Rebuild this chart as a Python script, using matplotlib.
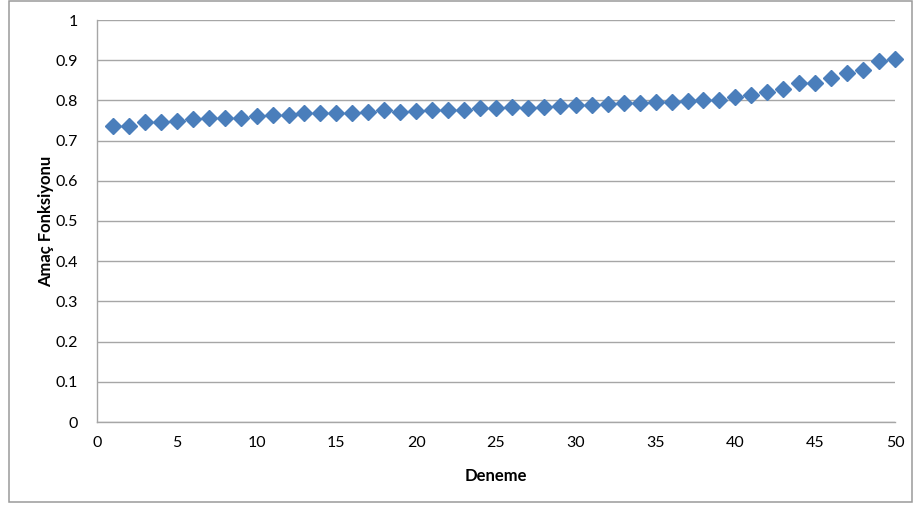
import matplotlib.pyplot as plt
from matplotlib.patches import Rectangle

# Objective function value for each trial
deneme = list(range(1, 51))
amac = [0.736, 0.7375, 0.746, 0.746, 0.750, 0.754, 0.757, 0.757, 0.757, 0.761,
        0.7625, 0.7625, 0.769, 0.7675, 0.7675, 0.769, 0.772, 0.775, 0.772, 0.773,
        0.776, 0.776, 0.776, 0.781, 0.781, 0.7825, 0.782, 0.784, 0.786, 0.7875,
        0.788, 0.791, 0.7925, 0.794, 0.796, 0.795, 0.798, 0.800, 0.801, 0.808,
        0.814, 0.822, 0.829, 0.844, 0.843, 0.856, 0.869, 0.875, 0.898, 0.904]

x_ticks = list(range(0, 51, 5))
y_ticks = [0, 0.1, 0.2, 0.3, 0.4, 0.5, 0.6, 0.7, 0.8, 0.9, 1]
y_tick_labels = ["0", "0.1", "0.2", "0.3", "0.4", "0.5", "0.6", "0.7", "0.8", "0.9", "1"]

plt.rcParams['font.family'] = ['Lato', 'DejaVu Sans']

W, H = 918, 507
fig = plt.figure(figsize=(W / 100, H / 100), dpi=100)
fig.patch.set_facecolor('white')

# chart frame
fig.add_artist(Rectangle((9 / W, 1 - 502 / H), (912 - 9) / W, (502 - 1) / H,
                         transform=fig.transFigure, fill=False,
                         edgecolor='#9a9a9a', linewidth=1.1))

left, right, top, bottom = 97, 895, 20, 422
ax = fig.add_axes([left / W, 1 - bottom / H, (right - left) / W, (bottom - top) / H])

ax.plot(deneme, amac, linestyle='none', marker='D', markersize=8.3,
        color='#4A7EBB', markeredgecolor='#4A7EBB', zorder=3, clip_on=False)

ax.set_xlim(0, 50)
ax.set_ylim(0, 1)
ax.set_xticks(x_ticks)
ax.set_yticks(y_ticks)
ax.set_yticklabels(y_tick_labels)
ax.grid(axis='y', color='#a6a6a6', linewidth=1.0)
ax.set_axisbelow(True)

for side in ['top', 'right']:
    ax.spines[side].set_visible(False)
for side in ['left', 'bottom']:
    ax.spines[side].set_color('#a6a6a6')
    ax.spines[side].set_linewidth(1.0)

ax.tick_params(axis='both', length=0, labelsize=11.5, colors='black')
ax.tick_params(axis='y', pad=14)
ax.tick_params(axis='x', pad=10)

ax.set_xlabel('Deneme', fontsize=12, fontweight='bold', labelpad=13)
ax.set_ylabel('Amaç Fonksiyonu', fontsize=12, fontweight='bold', labelpad=1)

fig.savefig('out.png', dpi=100, facecolor='white')
